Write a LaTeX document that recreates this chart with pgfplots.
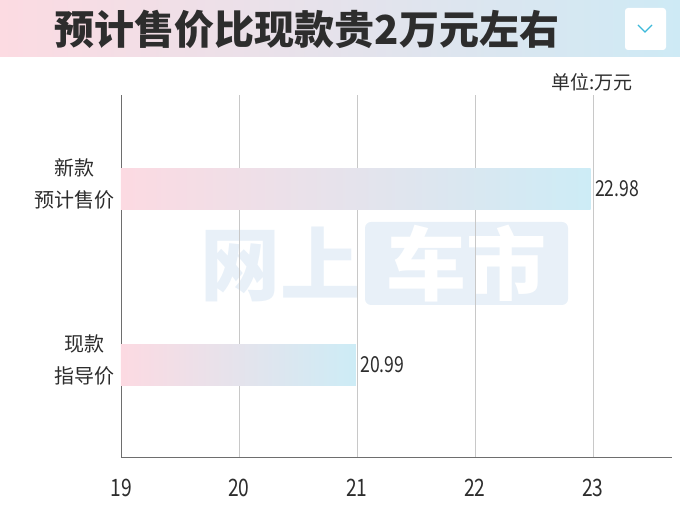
\documentclass[border=0pt]{standalone}
\usepackage{pgfplots}
\pgfplotsset{compat=1.18}
\usepackage{fontspec}
\setmainfont{Noto Sans CJK SC}
\newfontfamily\numfont[FakeStretch=0.8]{Noto Sans CJK SC}
\definecolor{bpink}{RGB}{252,219,226}
\definecolor{bblue}{RGB}{206,234,245}
\definecolor{barpink}{RGB}{252,218,226}
\definecolor{barblue}{RGB}{205,236,246}
\definecolor{txt}{RGB}{45,45,45}
\definecolor{axgray}{RGB}{110,110,110}
\definecolor{gridgray}{RGB}{200,200,200}
\definecolor{chev}{RGB}{60,185,218}
\definecolor{wm}{RGB}{232,240,248}
\begin{document}
\begin{tikzpicture}[x=1pt,y=1pt]
\useasboundingbox (0,0) rectangle (680,510);
% title banner
\shade[left color=bpink,right color=bblue] (0,453) rectangle (680,510);
\node[font=\fontsize{40}{40}\selectfont\bfseries,text=txt] at (307,481) {预计售价比现款贵2万元左右};
\fill[white,rounded corners=3pt] (625,460) rectangle (666,502);
\draw[chev,line width=1.1pt] (638,485) -- (645,478) -- (652,485);
\node[anchor=east,font=\fontsize{19}{19}\selectfont,text=txt] at (636,428) {单位:万元};
% watermark
\node[font=\fontsize{80}{80}\selectfont\bfseries,text=wm] at (280,246) {网上};
\fill[wm,rounded corners=6pt] (365,205) rectangle (568,288);
\node[font=\fontsize{80}{80}\selectfont\bfseries,text=white] at (466,246) {车市};
\begin{axis}[
    at={(121pt,53pt)}, anchor=south west,
    width=551pt, height=362pt, scale only axis,
    xmin=19, xmax=23.67,
    ymin=0.477, ymax=2.534,
    axis x line*=bottom, axis y line*=left,
    axis line style={axgray,-,line width=0.8pt},
    xmajorgrids, grid style={gridgray,line width=0.8pt},
    major tick length=0,
    xtick={19,20,21,22,23},
    xticklabels={19,20,21,22,23},
    xticklabel style={font=\numfont\fontsize{24}{24}\selectfont,text=txt,yshift=-19pt},
    ytick={1,2},
    yticklabels={{现款\\指导价},{新款\\预计售价}},
    yticklabel style={font=\fontsize{20}{32}\selectfont,text=txt,align=center,xshift=-3pt,yshift=5pt},
    clip=false,
    xbar, bar width=0.233,
    point meta=explicit symbolic,
    nodes near coords={\numfont\fontsize{22}{22}\selectfont\pgfplotspointmeta},
    nodes near coords style={text=txt,anchor=west,xshift=1pt},
]
\addplot[draw=none,bar shift=0pt,left color=barpink,right color=barblue]
    coordinates {(20.99,1) [20.99]};
\addplot[draw=none,bar shift=0pt,left color=barpink,right color=barblue]
    coordinates {(22.98,2) [22.98]};
\end{axis}
\end{tikzpicture}
\end{document}
